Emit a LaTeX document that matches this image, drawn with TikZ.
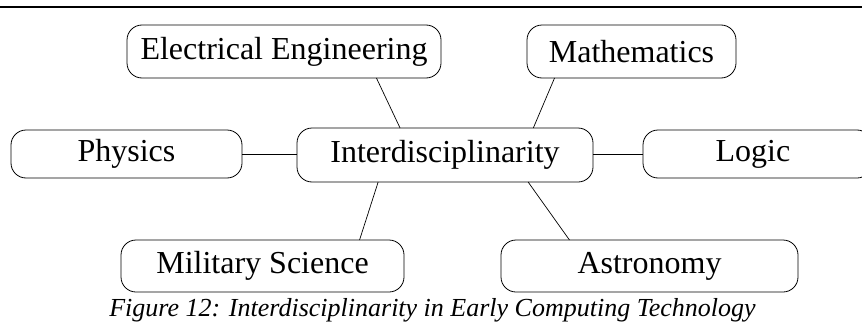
\documentclass[tikz,border=0pt]{standalone}
\usepackage{fontspec}
\setmainfont{Liberation Serif}
\begin{document}
\begin{tikzpicture}[x=1pt,y=-1pt,
  topic/.style={draw=black,line width=0.8pt,rounded corners=15pt,
    inner sep=0pt,outer sep=0pt,minimum height=#1,
    font=\fontsize{32}{36}\selectfont},
  topic/.default=50pt,
  link/.style={draw=black,line width=0.7pt}]
\useasboundingbox (0,0) rectangle (862,324);
% rule across the top
\draw[line width=1.2pt] (0,7) -- (862,7);
% topic boxes
\node[topic=53pt,minimum width=314pt] (ee)    at (284,51.5)  {Electrical Engineering};
\node[topic=53pt,minimum width=209pt] (math)  at (631.5,51.5) {Mathematics};
\node[topic=48pt,minimum width=231pt] (phys)  at (126.5,154) {Physics};
\node[topic=54pt,minimum width=296pt] (inter) at (445,155)   {Interdisciplinarity};
% this box runs past the right margin and is cut there
\node[topic=48pt,minimum width=229pt] (logic) at (757.5,154) {\hspace*{-9pt}Logic};
\node[topic=52pt,minimum width=283pt] (mil)   at (262.5,266) {Military Science};
\node[topic=52pt,minimum width=297pt] (astro) at (649.5,266) {Astronomy};
% connectors to the central topic
\draw[link] (ee.-16.6)    -- (inter.149.6);
\draw[link] (math.199.1)  -- (inter.17.8);
\draw[link] (phys.east)   -- (phys.east -| inter.west);
\draw[link] (inter.east |- logic.west) -- (logic.west);
\draw[link] (inter.202.6) -- (mil.15.2);
\draw[link] (inter.-18.6) -- (astro.162.5);
% caption
\node[anchor=base,font=\fontsize{26}{30}\selectfont\itshape,inner sep=0pt] (cap) at (432.5,316)
  {Figure 12: Interdisciplinarity in Early Computing Technology};
\end{tikzpicture}
\end{document}
